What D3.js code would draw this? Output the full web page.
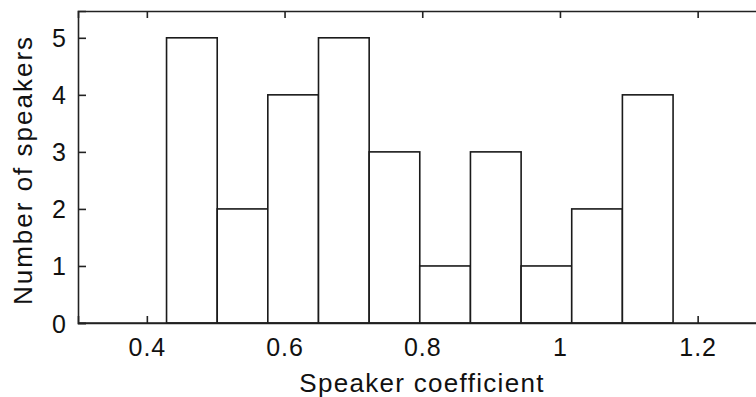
<!DOCTYPE html>
<html>
<head>
<meta charset="utf-8">
<script src="https://cdn.jsdelivr.net/npm/d3@7"></script>
<style>
  html, body { margin: 0; padding: 0; background: #fff; }
  svg { display: block; }
  text { font-family: "Liberation Sans", Arial, Helvetica, sans-serif; fill: #111; }
</style>
</head>
<body>
<script>
// ---- data ----
const binEdges = [0.4286, 0.5022, 0.5757, 0.6493, 0.7229, 0.7964, 0.8700, 0.9436, 1.0171, 1.0907, 1.1643];
const counts = [5, 2, 4, 5, 3, 1, 3, 1, 2, 4];
const xTicks = [0.4, 0.6, 0.8, 1.0, 1.2];
const xTickLabels = ["0.4", "0.6", "0.8", "1", "1.2"];
const yTicks = [0, 1, 2, 3, 4, 5];
const xDomain = [0.3, 1.3];
const yDomain = [0, 5.47];
const xLabel = "Speaker coefficient";
const yLabel = "Number of speakers";

const W = 756, H = 397;
const plot = { left: 78, top: 11, right: 766.5, bottom: 323 };

const svg = d3.select("body").append("svg").attr("width", W).attr("height", H);

const x = d3.scaleLinear().domain(xDomain).range([plot.left, plot.right]);
const y = d3.scaleLinear().domain(yDomain).range([plot.bottom, plot.top]);

const bars = counts.map((c, i) => ({ x0: binEdges[i], x1: binEdges[i + 1], c }));

const axisColor = "#222";
const lw = 1.6;

const gB = svg.append("g").attr("transform", `translate(0,${plot.bottom})`)
  .call(d3.axisBottom(x).tickValues(xTicks).tickFormat((d, i) => xTickLabels[i]).tickSize(-7).tickPadding(15));
const gT = svg.append("g").attr("transform", `translate(0,${plot.top})`)
  .call(d3.axisTop(x).tickValues(xTicks).tickFormat("").tickSize(-7));
const gL = svg.append("g").attr("transform", `translate(${plot.left},0)`)
  .call(d3.axisLeft(y).tickValues(yTicks).tickFormat(d3.format("d")).tickSize(-8).tickPadding(12));
const gR = svg.append("g").attr("transform", `translate(${plot.right},0)`)
  .call(d3.axisRight(y).tickValues(yTicks).tickFormat("").tickSize(-8));

[gB, gT, gL, gR].forEach(g => {
  g.select(".domain").attr("stroke", axisColor).attr("stroke-width", lw);
  g.selectAll(".tick line").attr("stroke", axisColor).attr("stroke-width", lw);
  g.selectAll(".tick text").attr("font-size", 25).attr("fill", "#111")
    .attr("font-family", "Liberation Sans, Arial, sans-serif");
});
gB.selectAll(".tick text").style("letter-spacing", "1px");
gL.selectAll(".tick text").attr("dy", "0.36em");

svg.append("g").selectAll("rect").data(bars).join("rect")
  .attr("x", d => x(d.x0))
  .attr("y", d => y(d.c))
  .attr("width", d => x(d.x1) - x(d.x0))
  .attr("height", d => y(0) - y(d.c))
  .attr("fill", "#fff")
  .attr("stroke", "#1a1a1a")
  .attr("stroke-width", 1.6);

svg.append("line").attr("x1", plot.left).attr("x2", plot.right)
  .attr("y1", plot.bottom).attr("y2", plot.bottom)
  .attr("stroke", axisColor).attr("stroke-width", lw);

svg.append("text")
  .attr("x", 422).attr("y", 392)
  .attr("text-anchor", "middle")
  .attr("font-size", 26)
  .style("letter-spacing", "1.3px")
  .text(xLabel);

svg.append("text")
  .attr("transform", `translate(32,${(plot.top + plot.bottom) / 2 + 3}) rotate(-90)`)
  .attr("text-anchor", "middle")
  .attr("font-size", 26)
  .style("letter-spacing", "2px")
  .text(yLabel);
</script>
</body>
</html>
